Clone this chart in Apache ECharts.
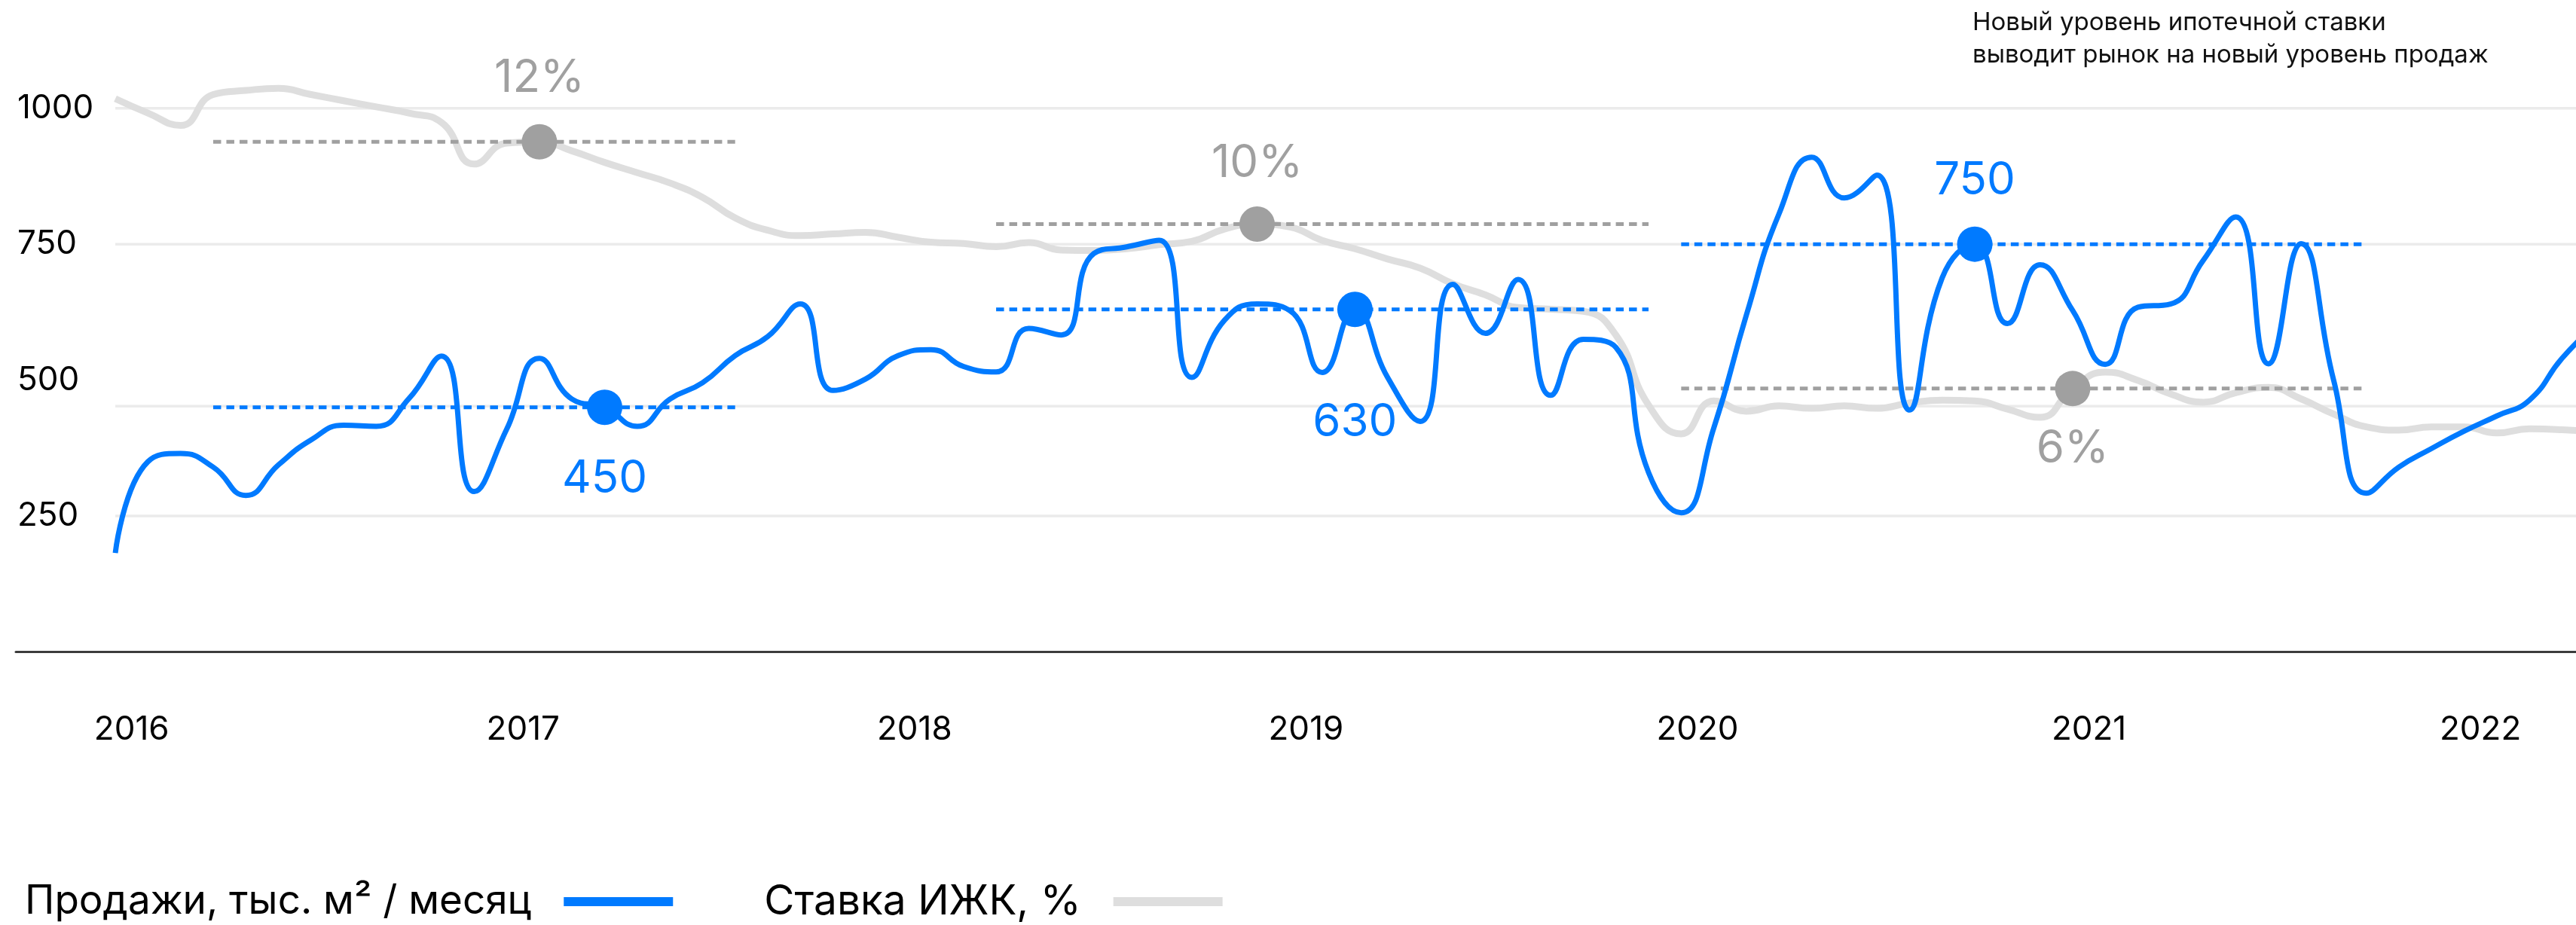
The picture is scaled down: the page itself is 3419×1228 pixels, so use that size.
<!DOCTYPE html>
<html>
<head>
<meta charset="utf-8">
<script src="https://cdn.jsdelivr.net/npm/echarts@6/dist/echarts.min.js"></script>
<style>
  html, body { margin: 0; padding: 0; background: #ffffff; }
  #chart { width: 3419px; height: 1228px; }
</style>
</head>
<body>
<div id="chart"></div>
<script>
// Monthly values, index 0 = January 2016
const sales = [
  182, 350, 365, 340, 288, 344, 390, 417, 415, 466, 544, 295,
  410, 540, 465, 450, 415, 465, 495, 545, 580, 640, 481, 502,
  545, 556, 525, 515, 595, 583, 733, 745, 757, 505, 610, 640,
  628, 514, 630, 505, 424, 676, 586, 685, 472, 575, 560, 330,
  256, 412, 620, 806, 910, 835, 877, 445, 688, 750, 604, 712,
  628, 529, 634, 640, 720, 800, 530, 751, 500, 292, 340, 374,
  406, 434, 463, 540, 600
];
const mortgageRate = [
  13.05, 12.7, 12.4, 13.15, 13.25, 13.3, 13.15, 13.0, 12.85, 12.7, 12.47, 11.46,
  11.97, 12.0, 11.78, 11.5, 11.25, 11.0, 10.65, 10.15, 9.85, 9.72, 9.76, 9.8,
  9.68, 9.56, 9.53, 9.45, 9.55, 9.37, 9.36, 9.4, 9.5, 9.58, 9.88, 10.0,
  9.93, 9.6, 9.4, 9.15, 8.93, 8.55, 8.28, 7.97, 7.93, 7.88, 7.3, 5.6,
  4.9, 5.7, 5.45, 5.58, 5.52, 5.58, 5.52, 5.65, 5.72, 5.7, 5.5, 5.3,
  6.0, 6.4, 6.2, 5.87, 5.67, 5.9, 6.03, 5.75, 5.38, 5.07, 4.99, 5.07,
  5.07, 4.92, 5.02, 5.0, 4.95
];
const yearLabels = ['2016', '2017', '2018', '2019', '2020', '2021', '2022'];
const salesTicks = [250, 500, 750, 1000];
const gridLevels = [250, 452, 750, 1000];

// Highlighted levels: marker month, level value and the month span of its dotted guide
const salesMarkMonths = [15, 38, 57];
const salesMarkValues = [450, 630, 750];
const rateMarkMonths = [13, 35, 60];
const rateMarkValues = [12, 10, 6];
const levelSpans = [[3, 19], [27, 47], [48, 69]];

const SALES_NAME = 'Продажи, тыс. м² / месяц';
const RATE_NAME = 'Ставка ИЖК, %';
const NOTE = 'Новый уровень ипотечной ставки\nвыводит рынок на новый уровень продаж';

// Layout and style
const FONT = 'Inter, "Noto Sans", sans-serif';
const BLUE = '#007AFF';
const GREY_LINE = '#DEDEDE';
const GREY_MARK = '#A0A0A0';
const X_MIN = -3.05, X_MAX = 75.43;
const salesLabelDy = [95, 150, -84];
const rateLabelDy = [-84, -81, 80];

const chart = echarts.init(document.getElementById('chart'), null, { renderer: 'canvas' });

const gridSeries = gridLevels.map((lvl, i) => ({
  name: 'grid' + i,
  type: 'line',
  yAxisIndex: 0,
  data: [[0, lvl], [X_MAX, lvl]],
  showSymbol: false,
  silent: true,
  z: 1,
  lineStyle: { color: '#EBEBEB', width: 3.5 }
}));

const guide = (yAxisIndex, level, span, color, z, name) => ({
  name,
  type: 'line',
  yAxisIndex,
  data: [[span[0], level], [span[1], level]],
  showSymbol: false,
  silent: true,
  z,
  lineStyle: { color, width: 5, type: [10.5, 7], cap: 'butt' }
});

const rateGuides = rateMarkValues.map((v, i) => guide(1, v, levelSpans[i], GREY_MARK, 3, 'rateGuide' + i));
const salesGuides = salesMarkValues.map((v, i) => guide(0, v, levelSpans[i], BLUE, 5, 'salesGuide' + i));

const option = {
  animation: false,
  backgroundColor: '#ffffff',
  textStyle: { fontFamily: FONT },
  title: {
    text: NOTE,
    left: 2618,
    top: 9,
    padding: 0,
    textStyle: { fontFamily: FONT, fontSize: 33, lineHeight: 43, fontWeight: 400, color: '#111111' }
  },
  legend: {
    left: 33,
    top: 1167,
    padding: 0,
    align: 'right',
    icon: 'rect',
    itemWidth: 145,
    itemHeight: 12,
    itemGap: 121,
    selectedMode: false,
    textStyle: { fontFamily: FONT, fontSize: 53, lineHeight: 60, color: '#000000', padding: [0, 38, 0, 0] },
    data: [
      { name: SALES_NAME, itemStyle: { color: BLUE } },
      { name: RATE_NAME, itemStyle: { color: GREY_LINE }, textStyle: { fontSize: 55 } }
    ]
  },
  grid: { left: 21, right: 0, top: 71.5, bottom: 330, outerBoundsMode: 'none' },
  xAxis: {
    type: 'value',
    min: X_MIN,
    max: X_MAX,
    axisLine: { show: true, lineStyle: { color: '#3C3C3C', width: 3 } },
    axisTick: { show: false },
    splitLine: { show: false },
    axisLabel: {
      customValues: yearLabels.map((y, i) => i * 12 + 0.5),
      formatter: v => yearLabels[Math.floor(v / 12)],
      margin: 49,
      fontSize: 44,
      lineHeight: 44,
      color: '#000000',
      fontFamily: FONT
    }
  },
  yAxis: [
    {
      type: 'value',
      min: -45,
      max: 1100,
      axisLine: { show: false },
      axisTick: { show: false },
      splitLine: { show: false },
      axisLabel: {
        inside: true,
        margin: 2,
        customValues: salesTicks,
        formatter: v => String(v),
        fontSize: 44,
        color: '#000000',
        fontFamily: FONT
      }
    },
    {
      type: 'value',
      min: -1,
      max: 14.14,
      show: false,
      splitLine: { show: false }
    }
  ],
  series: [
    ...gridSeries,
    {
      name: RATE_NAME,
      type: 'line',
      yAxisIndex: 1,
      data: mortgageRate.map((r, i) => [i, r]),
      smooth: 0.5,
      showSymbol: false,
      z: 2,
      itemStyle: { color: GREY_LINE },
      lineStyle: { color: GREY_LINE, width: 9 }
    },
    ...rateGuides,
    {
      name: SALES_NAME,
      type: 'line',
      yAxisIndex: 0,
      data: sales.map((v, i) => [i, v]),
      smooth: 0.5,
      showSymbol: false,
      z: 4,
      itemStyle: { color: BLUE },
      lineStyle: { color: BLUE, width: 7 }
    },
    ...salesGuides,
    {
      name: 'rateMarks',
      type: 'scatter',
      yAxisIndex: 1,
      symbol: 'circle',
      symbolSize: 47,
      z: 6,
      silent: true,
      itemStyle: { color: GREY_MARK, opacity: 1 },
      data: rateMarkMonths.map((m, i) => ({
        value: [m, rateMarkValues[i]],
        label: { offset: [0, rateLabelDy[i]] }
      })),
      label: {
        show: true,
        position: 'inside',
        formatter: p => p.value[1] + '%',
        fontSize: 60,
        lineHeight: 60,
        color: GREY_MARK,
        fontFamily: FONT
      }
    },
    {
      name: 'salesMarks',
      type: 'scatter',
      yAxisIndex: 0,
      symbol: 'circle',
      symbolSize: 47,
      z: 7,
      silent: true,
      itemStyle: { color: BLUE, opacity: 1 },
      data: salesMarkMonths.map((m, i) => ({
        value: [m, salesMarkValues[i]],
        label: { offset: [0, salesLabelDy[i]] }
      })),
      label: {
        show: true,
        position: 'inside',
        formatter: p => String(p.value[1]),
        fontSize: 60,
        lineHeight: 60,
        color: BLUE,
        fontFamily: FONT
      }
    }
  ]
};

chart.setOption(option);
</script>
</body>
</html>
